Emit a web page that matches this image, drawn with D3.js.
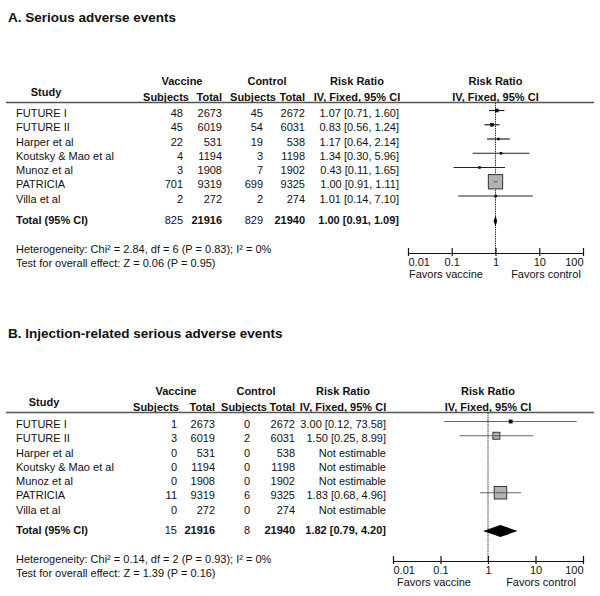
<!DOCTYPE html>
<html>
<head>
<meta charset="utf-8">
<script src="https://cdn.jsdelivr.net/npm/d3@7"></script>
<style>
html,body{margin:0;padding:0;background:#fff;}
svg{display:block;font-family:"Liberation Sans",Arial,Helvetica,sans-serif;}
</style>
</head>
<body>
<svg id="chart" width="600" height="596"></svg>
<script>
// ---------------- DATA ----------------
const studies = ["FUTURE I","FUTURE II","Harper et al","Koutsky & Mao et al","Munoz et al","PATRICIA","Villa et al"];
const tickValues = [0.01, 0.1, 1, 10, 100];
const tickLabels = ["0.01", "0.1", "1", "10", "100"];

// Panel A: Serious adverse events
const titleA = "A. Serious adverse events";
const vacEventsA = [48, 45, 22, 4, 3, 701, 2];
const vacTotalA  = [2673, 6019, 531, 1194, 1908, 9319, 272];
const ctlEventsA = [45, 54, 19, 3, 7, 699, 2];
const ctlTotalA  = [2672, 6031, 538, 1198, 1902, 9325, 274];
const rrA  = [1.07, 0.83, 1.17, 1.34, 0.43, 1.00, 1.01];
const loA  = [0.71, 0.56, 0.64, 0.30, 0.11, 0.91, 0.14];
const hiA  = [1.60, 1.24, 2.14, 5.96, 1.65, 1.11, 7.10];
const totalsA = [825, 21916, 829, 21940];
const pooledA = [1.00, 0.91, 1.09];
const hetA = "Heterogeneity: Chi\u00b2 = 2.84, df = 6 (P = 0.83); I\u00b2 = 0%";
const testA = "Test for overall effect: Z = 0.06 (P = 0.95)";

// Panel B: Injection-related serious adverse events
const titleB = "B. Injection-related serious adverse events";
const vacEventsB = [1, 3, 0, 0, 0, 11, 0];
const vacTotalB  = [2673, 6019, 531, 1194, 1908, 9319, 272];
const ctlEventsB = [0, 2, 0, 0, 0, 6, 0];
const ctlTotalB  = [2672, 6031, 538, 1198, 1902, 9325, 274];
const rrB  = [3.00, 1.50, null, null, null, 1.83, null];
const loB  = [0.12, 0.25, null, null, null, 0.68, null];
const hiB  = [73.58, 8.99, null, null, null, 4.96, null];
const totalsB = [15, 21916, 8, 21940];
const pooledB = [1.82, 0.79, 4.20];
const hetB = "Heterogeneity: Chi\u00b2 = 0.14, df = 2 (P = 0.93); I\u00b2 = 0%";
const testB = "Test for overall effect: Z = 1.39 (P = 0.16)";

const favorsLabels = ["Favors vaccine", "Favors control"];
const notEstimable = "Not estimable";

// ---------------- DRAWING ----------------
const svg = d3.select("#chart");
const FS = 11;
const ink = "#111";

function fmt2(v){ return v.toFixed(2); }

function drawPanel(d, L) {
  const g = svg.append("g");
  const n = studies.length;
  // title
  g.append("text").attr("x", 8).attr("y", L.titleY + 5)
    .attr("font-size", 13.5).attr("font-weight", "bold").attr("fill", ink).text(d.title);

  const txt = (x, y, t, anchor, b) => g.append("text").attr("x", x).attr("y", y + 4)
      .attr("font-size", FS).attr("font-weight", b ? "bold" : "normal").attr("fill", ink)
      .attr("text-anchor", anchor || "start").text(t);

  // headers
  txt(L.studyC, L.h2Y - 5, "Study", "middle", true);
  txt(L.vacC, L.h1Y, "Vaccine", "middle", true);
  txt(L.ctlC, L.h1Y, "Control", "middle", true);
  txt(L.vSh, L.h2Y, "Subjects", "middle", true);
  txt(L.vT, L.h2Y, "Total", "end", true);
  txt(L.cSh, L.h2Y, "Subjects", "middle", true);
  txt(L.cT, L.h2Y, "Total", "end", true);
  txt(L.rrC, L.h1Y, "Risk Ratio", "middle", true);
  txt(L.rrC, L.h2Y, "IV, Fixed, 95% CI", "middle", true);
  const x = d3.scaleLog().domain([0.01, 100]).range([L.ax0, L.ax1]);
  const axC = (L.ax0 + L.ax1) / 2;
  txt(axC, L.h1Y, "Risk Ratio", "middle", true);
  txt(axC, L.h2Y, "IV, Fixed, 95% CI", "middle", true);

  g.append("line").attr("x1", 6).attr("x2", 594).attr("y1", L.lineY).attr("y2", L.lineY)
    .attr("stroke", "#555").attr("stroke-width", 1.5);

  const y = d3.scaleLinear().domain([0, n - 1]).range([L.row0, L.row0 + (n - 1) * L.step]);

  // weights (inverse variance of log RR) to size the squares
  const w = d.vE.map((a, i) => {
    if (d.rr[i] == null) return 0;
    let aa = a, cc = d.cE[i], n1 = d.vT[i], n2 = d.cT[i];
    if (aa === 0 || cc === 0) { aa += 0.5; cc += 0.5; n1 += 1; n2 += 1; }
    return 1 / (1 / aa - 1 / n1 + 1 / cc - 1 / n2);
  });
  const wMax = d3.max(w);

  // reference line at 1
  g.append("line").attr("x1", x(1)).attr("x2", x(1))
    .attr("y1", L.lineY).attr("y2", L.axisY)
    .attr("stroke", "#333").attr("stroke-width", 1).attr("stroke-dasharray", "1.5,0.8");

  for (let i = 0; i < n; i++) {
    const ty = y(i);
    txt(16, ty, studies[i]);
    txt(L.vS, ty, d.vE[i], "end");
    txt(L.vT, ty, d.vT[i], "end");
    txt(L.cS, ty, d.cE[i], "end");
    txt(L.cT, ty, d.cT[i], "end");
    if (d.rr[i] == null) {
      txt(L.rrR, ty, notEstimable, "end");
      continue;
    }
    txt(L.rrR, ty, `${fmt2(d.rr[i])} [${fmt2(d.lo[i])}, ${fmt2(d.hi[i])}]`, "end");
    const my = ty - 2.5;
    const side = Math.max(2.6, L.maxBox * Math.sqrt(w[i] / wMax));
    const big = side >= 5;
    g.append("line").attr("x1", x(d.lo[i])).attr("x2", x(d.hi[i]))
      .attr("y1", my).attr("y2", my).attr("stroke", L.ciColor).attr("stroke-width", 1.2);
    g.append("rect").attr("x", x(d.rr[i]) - side / 2).attr("y", my - side / 2)
      .attr("width", side).attr("height", side)
      .attr("fill", big ? "#b3b3b3" : "#111")
      .attr("stroke", big ? "#333" : "none").attr("stroke-width", 1);
    if (big) {
      g.append("line").attr("x1", Math.max(x(d.lo[i]), x(d.rr[i]) - side / 2 + 1))
        .attr("x2", Math.min(x(d.hi[i]), x(d.rr[i]) + side / 2 - 1))
        .attr("y1", my).attr("y2", my).attr("stroke", "#555").attr("stroke-width", 1);
    }
  }

  // totals
  const tY = L.totalY;
  txt(16, tY, "Total (95% CI)", "start", true);
  txt(L.vS, tY, d.totals[0], "end");
  txt(L.vT, tY, d.totals[1], "end", true);
  txt(L.cS, tY, d.totals[2], "end");
  txt(L.cT, tY, d.totals[3], "end", true);
  txt(L.rrR, tY, `${fmt2(d.pooled[0])} [${fmt2(d.pooled[1])}, ${fmt2(d.pooled[2])}]`, "end", true);
  const dy = tY + 1, hh = L.diamondH / 2;
  g.append("path")
    .attr("d", `M${x(d.pooled[1])},${dy} L${x(d.pooled[0])},${dy - hh} L${x(d.pooled[2])},${dy} L${x(d.pooled[0])},${dy + hh} Z`)
    .attr("fill", "#000");

  // heterogeneity text
  txt(16, L.hetY, d.het);
  txt(16, L.hetY + 14, d.test);

  // axis
  const axis = d3.axisBottom(x).tickValues(tickValues)
    .tickFormat((v, i) => tickLabels[i]).tickSizeInner(0).tickSizeOuter(0).tickPadding(0);
  const ax = g.append("g").attr("transform", `translate(0,${L.axisY})`).call(axis);
  ax.select(".domain").attr("stroke", "#111").attr("stroke-width", 1.2);
  ax.selectAll(".tick line").attr("y1", -5).attr("y2", 3).attr("stroke", "#111").attr("stroke-width", 1.2);
  ax.selectAll(".tick text")
    .attr("font-family", "Liberation Sans, Arial, sans-serif")
    .attr("font-size", FS).attr("fill", ink).attr("dy", 0).attr("y", 13)
    .attr("text-anchor", (v, i) => i === 0 ? "start" : (i === tickValues.length - 1 ? "end" : "middle"));
  g.append("text").attr("x", L.fav0).attr("y", L.axisY + 25).attr("text-anchor", "middle")
    .attr("font-size", FS).attr("fill", ink).text(favorsLabels[0]);
  g.append("text").attr("x", L.fav1).attr("y", L.axisY + 25).attr("text-anchor", "middle")
    .attr("font-size", FS).attr("fill", ink).text(favorsLabels[1]);
}

drawPanel(
  { title: titleA, vE: vacEventsA, vT: vacTotalA, cE: ctlEventsA, cT: ctlTotalA,
    rr: rrA, lo: loA, hi: hiA, totals: totalsA, pooled: pooledA, het: hetA, test: testA },
  { titleY: 17, h1Y: 81, h2Y: 96.5, lineY: 102.5, row0: 113, step: 14.25, totalY: 220,
    hetY: 249, axisY: 253, studyC: 46,
    vS: 183, vSh: 166, vT: 222, cS: 263, cSh: 253, cT: 305, vacC: 182, ctlC: 267,
    rrC: 357, rrR: 399,
    ax0: 408, ax1: 583, fav0: 446, fav1: 546, maxBox: 14.3, diamondH: 11, ciColor: "#222" });

drawPanel(
  { title: titleB, vE: vacEventsB, vT: vacTotalB, cE: ctlEventsB, cT: ctlTotalB,
    rr: rrB, lo: loB, hi: hiB, totals: totalsB, pooled: pooledB, het: hetB, test: testB },
  { titleY: 333, h1Y: 391, h2Y: 406.5, lineY: 412.5, row0: 424, step: 14.25, totalY: 530,
    hetY: 559, axisY: 561, studyC: 44,
    vS: 177, vSh: 156, vT: 215, cS: 250, cSh: 244, cT: 295, vacC: 176, ctlC: 256,
    rrC: 343, rrR: 386,
    ax0: 393, ax1: 583, fav0: 434, fav1: 541, maxBox: 12.5, diamondH: 12, ciColor: "#666" });
</script>
</body>
</html>
